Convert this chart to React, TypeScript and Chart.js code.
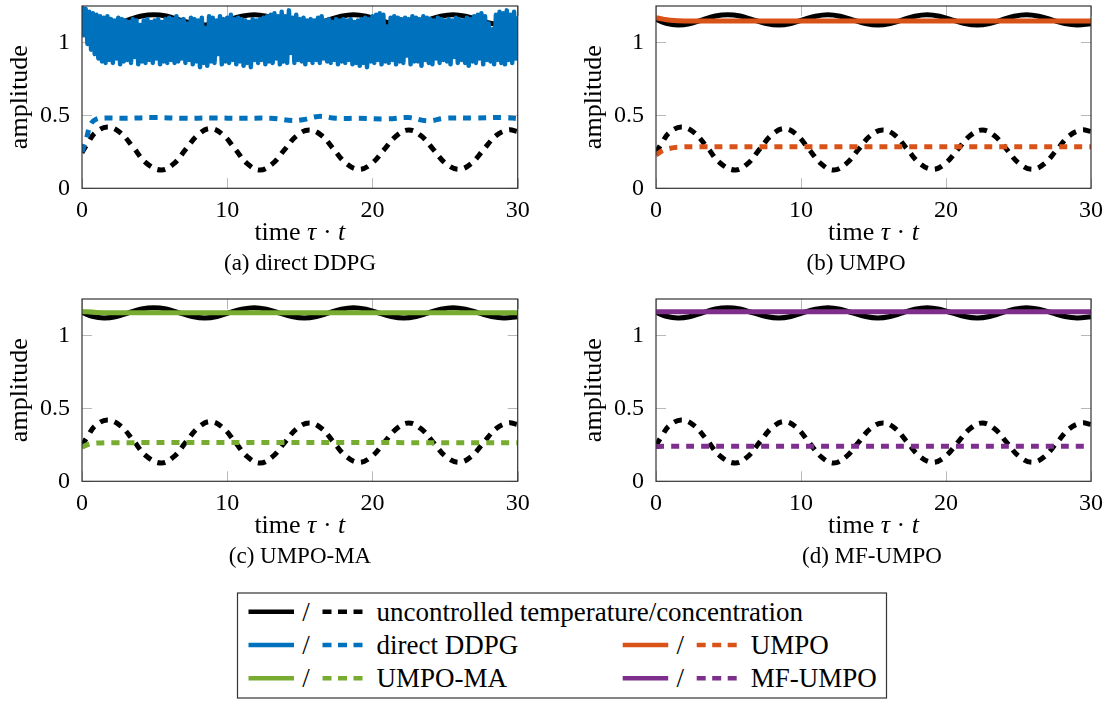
import React, { useEffect, useRef } from "react";
import { Chart, registerables } from "chart.js";

Chart.register(...registerables);

const FONT = '"Liberation Serif", "Times New Roman", serif';

// ---------- axes ----------
const xTicks = [0, 10, 20, 30];
const yTicks = [0, 0.5, 1];
const xMin = 0;
const xMax = 30;
const yMin = 0;
const yMax = 1.25;

// ---------- colours ----------
const BLACK = "#000000";
const BLUE = "#0072BD";
const ORANGE = "#D95319";
const GREEN = "#77AC30";
const PURPLE = "#7E2F8E";

// ---------- uncontrolled (same in every panel) ----------
const uncTempTimes = [0, 0.7, 1.5, 2.3, 3.2, 4.1, 4.95, 5.8, 6.7, 7.6, 8.45, 9.3, 10.1, 11.0, 11.85, 12.7, 13.55, 14.45, 15.3, 16.15, 17.0, 17.85, 18.7, 19.55, 20.4, 21.3, 22.15, 23.0, 23.85, 24.7, 25.55, 26.4, 27.3, 28.2, 29.05, 30];
const uncTempValues = [1.158, 1.132, 1.12, 1.128, 1.155, 1.181, 1.19, 1.181, 1.155, 1.13, 1.12, 1.13, 1.155, 1.18, 1.19, 1.18, 1.155, 1.13, 1.12, 1.13, 1.155, 1.18, 1.19, 1.18, 1.155, 1.13, 1.12, 1.13, 1.155, 1.18, 1.19, 1.18, 1.155, 1.13, 1.12, 1.128];

const uncConcTimes = [0, 0.4, 0.9, 1.75, 2.6, 3.5, 4.4, 5.45, 6.3, 7.15, 8.0, 8.85, 9.7, 10.55, 11.4, 12.25, 13.1, 13.95, 14.8, 15.65, 16.5, 17.35, 18.2, 19.1, 19.95, 20.8, 21.65, 22.5, 23.35, 24.2, 25.05, 25.95, 26.8, 27.65, 28.5, 29.35, 30];
const uncConcValues = [0.245, 0.31, 0.38, 0.42, 0.385, 0.285, 0.175, 0.125, 0.167, 0.268, 0.368, 0.41, 0.368, 0.268, 0.167, 0.125, 0.167, 0.265, 0.362, 0.4, 0.362, 0.265, 0.17, 0.13, 0.17, 0.265, 0.36, 0.4, 0.36, 0.265, 0.17, 0.13, 0.17, 0.265, 0.36, 0.4, 0.39];

// ---------- direct DDPG ----------
const ddpgTempStep = 0.125; // sample spacing in time of the fast oscillation
const ddpgTempValues = [
  1.25, 1.05, 1.23, 0.99, 1.21, 0.95, 1.2, 0.92,
  1.19, 0.89, 1.18, 0.87, 1.17, 0.86, 1.18, 0.88,
  1.16, 0.86, 1.15, 0.89, 1.17, 0.85, 1.16, 0.87,
  1.15, 0.88, 1.14, 0.86, 1.16, 0.9, 1.15, 0.85,
  1.12, 0.87, 1.15, 0.86, 1.16, 0.88, 1.14, 0.86,
  1.15, 0.89, 1.16, 0.85, 1.14, 0.87, 1.16, 0.86,
  1.17, 0.88, 1.16, 0.86, 1.18, 0.87, 1.15, 0.89,
  1.16, 0.86, 1.13, 0.88, 1.17, 0.85, 1.16, 0.87,
  1.15, 0.83, 1.17, 0.86, 1.1, 0.84, 1.18, 0.87,
  1.17, 0.86, 1.15, 0.92, 1.18, 0.85, 1.16, 0.87,
  1.17, 0.86, 1.19, 0.88, 1.16, 0.85, 1.17, 0.87,
  1.16, 0.84, 1.15, 0.86, 1.14, 0.83, 1.16, 0.88,
  1.15, 0.86, 1.16, 0.88, 1.17, 0.85, 1.18, 0.87,
  1.19, 0.86, 1.2, 0.89, 1.18, 0.85, 1.21, 0.87,
  1.18, 0.86, 1.22, 0.93, 1.17, 0.86, 1.19, 0.88,
  1.16, 0.87, 1.17, 0.85, 1.15, 0.88, 1.16, 0.86,
  1.15, 0.88, 1.17, 0.86, 1.18, 0.89, 1.15, 0.87,
  1.16, 0.86, 1.14, 0.88, 1.16, 0.85, 1.15, 0.87,
  1.16, 0.86, 1.15, 0.88, 1.16, 0.85, 1.14, 0.86,
  1.15, 0.84, 1.16, 0.86, 1.17, 0.83, 1.16, 0.87,
  1.18, 0.86, 1.19, 0.88, 1.2, 0.85, 1.19, 0.87,
  1.11, 0.86, 1.17, 0.88, 1.18, 0.85, 1.17, 0.87,
  1.16, 0.86, 1.17, 0.91, 1.16, 0.85, 1.18, 0.87,
  1.17, 0.87, 1.16, 0.84, 1.18, 0.88, 1.17, 0.86,
  1.16, 0.85, 1.15, 0.89, 1.17, 0.86, 1.16, 0.88,
  1.15, 0.87, 1.16, 0.85, 1.15, 0.9, 1.17, 0.86,
  1.16, 0.88, 1.15, 0.86, 1.17, 0.84, 1.16, 0.87,
  1.18, 0.86, 1.19, 0.89, 1.2, 0.85, 1.18, 0.88,
  1.13, 0.87, 1.09, 0.85, 1.19, 0.88, 1.21, 0.86,
  1.2, 0.85, 1.22, 0.88, 1.19, 0.86, 1.21, 0.89,
  1.18,
];
const ddpgConcTimes = [0, 0.3, 0.6, 1.0, 1.5, 3, 5, 7, 9, 11, 13, 14.5, 15.2, 16.3, 17.5, 19, 21, 22.5, 23.8, 25, 27, 29, 30];
const ddpgConcValues = [0.25, 0.34, 0.44, 0.475, 0.482, 0.48, 0.485, 0.48, 0.482, 0.48, 0.48, 0.465, 0.47, 0.493, 0.48, 0.48, 0.476, 0.485, 0.462, 0.48, 0.482, 0.485, 0.478];

// ---------- UMPO ----------
const umpoTempTimes = [0, 0.5, 1, 2, 30];
const umpoTempValues = [1.17, 1.16, 1.152, 1.148, 1.148];
const umpoConcTimes = [0, 0.5, 1, 1.5, 2.5, 30];
const umpoConcValues = [0.23, 0.26, 0.275, 0.282, 0.285, 0.285];

// ---------- UMPO-MA ----------
const umpoMaTempTimes = [0, 1, 2, 30];
const umpoMaTempValues = [1.165, 1.158, 1.156, 1.156];
const umpoMaConcTimes = [0, 0.5, 1, 2, 30];
const umpoMaConcValues = [0.235, 0.255, 0.262, 0.265, 0.265];

// ---------- MF-UMPO ----------
const mfTempTimes = [0, 1, 30];
const mfTempValues = [1.163, 1.162, 1.162];
const mfConcTimes = [0, 0.5, 30];
const mfConcValues = [0.238, 0.24, 0.24];

// ---------- captions / legend text ----------
const captions = ["(a) direct DDPG", "(b) UMPO", "(c) UMPO-MA", "(d) MF-UMPO"];
const legendLabels = ["uncontrolled temperature/concentration", "direct DDPG", "UMPO", "UMPO-MA", "MF-UMPO"];

type Series = { xs: number[]; ys: number[]; color: string; dashed: boolean; width: number; tension: number };

const pts = (xs: number[], ys: number[]) => xs.map((x, i) => ({ x, y: ys[i] }));
const ddpgTempTimes = ddpgTempValues.map((_, i) => i * ddpgTempStep);

const uncontrolled: Series[] = [
  { xs: uncTempTimes, ys: uncTempValues, color: BLACK, dashed: false, width: 5, tension: 0.4 },
  { xs: uncConcTimes, ys: uncConcValues, color: BLACK, dashed: true, width: 5, tension: 0.4 },
];

const panelSeries: Series[][] = [
  [
    { xs: ddpgTempTimes, ys: ddpgTempValues, color: BLUE, dashed: false, width: 4.5, tension: 0 },
    { xs: ddpgConcTimes, ys: ddpgConcValues, color: BLUE, dashed: true, width: 5, tension: 0.4 },
  ],
  [
    { xs: umpoTempTimes, ys: umpoTempValues, color: ORANGE, dashed: false, width: 5, tension: 0.4 },
    { xs: umpoConcTimes, ys: umpoConcValues, color: ORANGE, dashed: true, width: 5, tension: 0.4 },
  ],
  [
    { xs: umpoMaTempTimes, ys: umpoMaTempValues, color: GREEN, dashed: false, width: 5, tension: 0.4 },
    { xs: umpoMaConcTimes, ys: umpoMaConcValues, color: GREEN, dashed: true, width: 5, tension: 0.4 },
  ],
  [
    { xs: mfTempTimes, ys: mfTempValues, color: PURPLE, dashed: false, width: 5, tension: 0.4 },
    { xs: mfConcTimes, ys: mfConcValues, color: PURPLE, dashed: true, width: 5, tension: 0.4 },
  ],
];

// ---------- layout ----------
const AXIS_FONT = 24;
const TITLE_FONT = 26;
const CAPTION_FONT = 23;
const LEGEND_FONT = 27;
const PLOT_TOP = 6;
const PLOT_BOTTOM = 188.3;
const Y_AXIS_W = 82;
const CANVAS_H = 250;

const panelsLayout = [
  { left: 0, top: 0, width: 540, padRight: 22.3, capX: 300 },
  { left: 574, top: 0, width: 533, padRight: 16, capX: 856 },
  { left: 0, top: 293, width: 540, padRight: 22.3, capX: 300 },
  { left: 574, top: 293, width: 533, padRight: 16, capX: 872 },
];

const frameTicksPlugin = {
  id: "frameTicks",
  beforeDatasetsDraw(chart: any) {
    const { ctx, chartArea: a, scales } = chart;
    const L = 10;
    ctx.save();
    ctx.strokeStyle = "#b8b8b8";
    ctx.lineWidth = 1;
    ctx.beginPath();
    for (const v of xTicks) {
      const px = Math.round(scales.x.getPixelForValue(v)) + 0.5;
      ctx.moveTo(px, a.bottom);
      ctx.lineTo(px, a.bottom - L);
      ctx.moveTo(px, a.top);
      ctx.lineTo(px, a.top + L);
    }
    for (const v of yTicks) {
      const py = Math.round(scales.y.getPixelForValue(v)) + 0.5;
      ctx.moveTo(a.left, py);
      ctx.lineTo(a.left + L, py);
      ctx.moveTo(a.right, py);
      ctx.lineTo(a.right - L, py);
    }
    ctx.stroke();
    ctx.restore();
  },
  afterDatasetsDraw(chart: any) {
    const { ctx, chartArea: a } = chart;
    ctx.save();
    ctx.strokeStyle = "#333333";
    ctx.lineWidth = 1.2;
    ctx.strokeRect(a.left, a.top, a.right - a.left, a.bottom - a.top);
    ctx.restore();
  },
};

const xTitlePlugin = {
  id: "xTitle",
  afterDraw(chart: any) {
    const { ctx, chartArea: a } = chart;
    const parts = [
      { t: "time ", it: false },
      { t: "τ", it: true },
      { t: " · ", it: false },
      { t: "t", it: true },
    ];
    const fontOf = (it: boolean) => `${it ? "italic " : ""}${TITLE_FONT}px ${FONT}`;
    ctx.save();
    ctx.fillStyle = "#000";
    ctx.textBaseline = "alphabetic";
    ctx.textAlign = "left";
    let total = 0;
    const widths = parts.map((p) => {
      ctx.font = fontOf(p.it);
      const w = ctx.measureText(p.t).width;
      total += w;
      return w;
    });
    let x = (a.left + a.right) / 2 - total / 2;
    const y = a.bottom + 52;
    parts.forEach((p, i) => {
      ctx.font = fontOf(p.it);
      ctx.fillText(p.t, x, y);
      x += widths[i];
    });
    ctx.restore();
  },
};

function Panel({ index }: { index: number }) {
  const ref = useRef<HTMLCanvasElement | null>(null);
  const lay = panelsLayout[index];
  useEffect(() => {
    if (!ref.current) return;
    const all = [...panelSeries[index], ...uncontrolled];
    const datasets = all.map((s) => ({
      data: pts(s.xs, s.ys),
      borderColor: s.color,
      backgroundColor: s.color,
      borderWidth: s.width,
      borderDash: s.dashed ? [8, 7] : [],
      borderCapStyle: "butt" as const,
      borderJoinStyle: "round" as const,
      tension: s.tension,
      pointRadius: 0,
      fill: false,
    }));
    const tickFont = { family: FONT, size: AXIS_FONT };
    const chart = new Chart(ref.current, {
      type: "line",
      data: { datasets },
      options: {
        animation: false,
        responsive: false,
        maintainAspectRatio: false,
        devicePixelRatio: 1,
        events: [],
        layout: { autoPadding: false, padding: { left: 0, top: PLOT_TOP, right: lay.padRight, bottom: 0 } },
        plugins: { legend: { display: false }, tooltip: { enabled: false }, title: { display: false } },
        scales: {
          x: {
            type: "linear",
            min: xMin,
            max: xMax,
            afterBuildTicks: (s: any) => {
              s.ticks = xTicks.map((v) => ({ value: v }));
            },
            afterFit: (s: any) => {
              s.height = CANVAS_H - PLOT_BOTTOM;
              s.paddingLeft = 0;
              s.paddingRight = 0;
            },
            grid: { display: false, drawTicks: false },
            border: { display: false },
            ticks: { font: tickFont, color: "#000", padding: 8, maxRotation: 0, autoSkip: false, callback: (v: any) => String(v) },
          },
          y: {
            type: "linear",
            min: yMin,
            max: yMax,
            afterBuildTicks: (s: any) => {
              s.ticks = yTicks.map((v) => ({ value: v }));
            },
            afterFit: (s: any) => {
              s.width = Y_AXIS_W;
              s.paddingTop = 0;
              s.paddingBottom = 0;
            },
            grid: { display: false, drawTicks: false },
            border: { display: false },
            ticks: { font: tickFont, color: "#000", padding: 12, autoSkip: false, callback: (v: any) => String(v) },
            title: { display: true, text: "amplitude", font: { family: FONT, size: TITLE_FONT }, color: "#000", padding: { top: 5, bottom: 0 } },
          },
        },
      } as any,
      plugins: [frameTicksPlugin, xTitlePlugin],
    });
    return () => chart.destroy();
  }, [index]);
  return (
    <>
      <canvas
        ref={ref}
        width={lay.width}
        height={CANVAS_H}
        style={{ position: "absolute", left: lay.left, top: lay.top, width: lay.width, height: CANVAS_H, display: "block" }}
      />
      <div
        style={{
          position: "absolute",
          left: lay.capX - 200,
          top: lay.top + 263 - 15,
          width: 400,
          height: 30,
          lineHeight: "30px",
          textAlign: "center",
          fontFamily: FONT,
          fontSize: CAPTION_FONT,
          color: "#000",
          whiteSpace: "nowrap",
        }}
      >
        {captions[index]}
      </div>
    </>
  );
}

function LegendSample({ x, y, color }: { x: number; y: number; color: string }) {
  return (
    <g>
      <line x1={x} y1={y} x2={x + 45.5} y2={y} stroke={color} strokeWidth={4.5} />
      <text x={x + 57.5} y={y + 9} fontFamily={FONT} fontSize={LEGEND_FONT} textAnchor="middle" fill="#000">/</text>
      <line x1={x + 74} y1={y} x2={x + 114} y2={y} stroke={color} strokeWidth={4.5} strokeDasharray="9 6.5" />
    </g>
  );
}

function Legend() {
  const rows = [611.7, 645, 678.3];
  const col1 = 248.5;
  const col2 = 622.7;
  const text1 = 376.5;
  const text2 = 750.7;
  const tx = (y: number) => y + 9;
  return (
    <svg width={1107} height={702} style={{ position: "absolute", left: 0, top: 0 }}>
      <rect x={237.5} y={593} width={649} height={105} fill="#fff" stroke="#333" strokeWidth={1.2} />
      <LegendSample x={col1} y={rows[0]} color={BLACK} />
      <text x={text1} y={tx(rows[0])} fontFamily={FONT} fontSize={LEGEND_FONT} fill="#000">{legendLabels[0]}</text>
      <LegendSample x={col1} y={rows[1]} color={BLUE} />
      <text x={text1} y={tx(rows[1])} fontFamily={FONT} fontSize={LEGEND_FONT} fill="#000">{legendLabels[1]}</text>
      <LegendSample x={col2} y={rows[1]} color={ORANGE} />
      <text x={text2} y={tx(rows[1])} fontFamily={FONT} fontSize={LEGEND_FONT} fill="#000">{legendLabels[2]}</text>
      <LegendSample x={col1} y={rows[2]} color={GREEN} />
      <text x={text1} y={tx(rows[2])} fontFamily={FONT} fontSize={LEGEND_FONT} fill="#000">{legendLabels[3]}</text>
      <LegendSample x={col2} y={rows[2]} color={PURPLE} />
      <text x={text2} y={tx(rows[2])} fontFamily={FONT} fontSize={LEGEND_FONT} fill="#000">{legendLabels[4]}</text>
    </svg>
  );
}

export default function App() {
  return (
    <div style={{ position: "absolute", left: 0, top: 0, width: 1107, height: 702, overflow: "hidden", background: "#fff" }}>
      <Legend />
      {[0, 1, 2, 3].map((i) => (
        <Panel key={i} index={i} />
      ))}
    </div>
  );
}
